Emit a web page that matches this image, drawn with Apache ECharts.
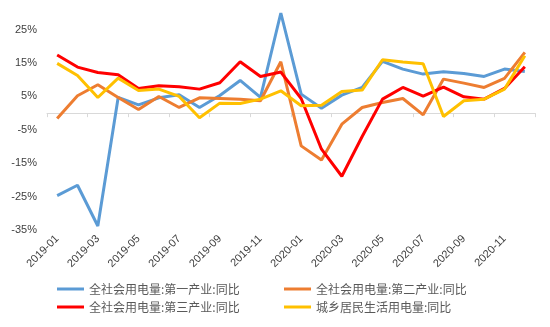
<!DOCTYPE html>
<html>
<head>
<meta charset="utf-8">
<script src="https://cdn.jsdelivr.net/npm/echarts@6/dist/echarts.min.js"></script>
<style>
  html, body { margin: 0; padding: 0; background: #fff; }
  #chart { width: 550px; height: 327px; }
</style>
</head>
<body>
<div id="chart"></div>
<script>
// Monthly year-on-year growth of electricity consumption, %
var months = [
  '2019-01','2019-02','2019-03','2019-04','2019-05','2019-06',
  '2019-07','2019-08','2019-09','2019-10','2019-11','2019-12',
  '2020-01','2020-02','2020-03','2020-04','2020-05','2020-06',
  '2020-07','2020-08','2020-09','2020-10','2020-11','2020-12'
];

var seriesNames = [
  '全社会用电量:第一产业:同比',
  '全社会用电量:第二产业:同比',
  '全社会用电量:第三产业:同比',
  '城乡居民生活用电量:同比'
];

var primaryIndustry = [
  -24.7, -21.6, -33.8, 4.7, 2.5, 4.6, 5.5, 1.7, 5.3, 9.8, 4.7, 30.0,
  5.7, 1.5, 5.4, 7.7, 15.5, 13.2, 11.7, 12.4, 11.9, 11.0, 13.2, 12.5
];
var secondaryIndustry = [
  -1.6, 5.2, 8.5, 4.7, 1.1, 5.0, 1.7, 4.6, 4.4, 4.2, 3.7, 15.4,
  -9.8, -14.0, -3.3, 1.7, 3.2, 4.4, -0.5, 10.2, 9.0, 7.7, 10.4, 18.2
];
var tertiaryIndustry = [
  17.4, 13.8, 12.2, 11.5, 7.4, 8.2, 7.9, 7.2, 9.1, 15.4, 11.0, 12.3,
  4.4, -10.8, -18.9, -7.0, 4.2, 7.7, 5.1, 7.8, 4.9, 4.2, 7.4, 13.9
];
var residential = [
  14.9, 11.3, 4.7, 10.5, 6.8, 7.2, 5.0, -1.4, 3.0, 2.9, 4.2, 6.7,
  2.2, 2.4, 6.5, 6.9, 16.0, 15.3, 14.8, -1.0, 3.7, 4.2, 7.2, 17.2
];

var seriesData = [primaryIndustry, secondaryIndustry, tertiaryIndustry, residential];
var seriesColors = ['#5B9BD5', '#ED7D31', '#FF0000', '#FFC000'];

var yMin = -35, yMax = 30, yStep = 5, yLabelStep = 10;

var chart = echarts.init(document.getElementById('chart'), null, { renderer: 'canvas' });

var legendText = { fontFamily: 'Noto Sans CJK SC', fontSize: 12, color: '#595959' };

chart.setOption({
  animation: false,
  backgroundColor: '#ffffff',
  color: seriesColors,
  grid: { left: 47, right: 15, top: 13, bottom: 97, containLabel: false },
  legend: [
    {
      orient: 'vertical', left: 52, top: 278, itemGap: 6,
      icon: 'rect', itemWidth: 27, itemHeight: 3,
      textStyle: legendText,
      data: [seriesNames[0], seriesNames[2]]
    },
    {
      orient: 'vertical', left: 279, top: 278, itemGap: 6,
      icon: 'rect', itemWidth: 27, itemHeight: 3,
      textStyle: legendText,
      data: [seriesNames[1], seriesNames[3]]
    }
  ],
  xAxis: [
    {
      type: 'category',
      data: months,
      boundaryGap: true,
      position: 'bottom',
      axisLine: { show: true, onZero: true, lineStyle: { color: '#d9d9d9', width: 1 } },
      axisTick: { show: true, interval: 1, length: 4, lineStyle: { color: '#d9d9d9' } },
      axisLabel: { show: false },
      splitLine: { show: false }
    },
    {
      type: 'category',
      data: months,
      boundaryGap: true,
      position: 'bottom',
      axisLine: { show: false, onZero: false },
      axisTick: { show: false },
      axisLabel: {
        show: true, interval: 1, rotate: 45, margin: 7,
        fontFamily: 'Liberation Sans', fontSize: 11, color: '#404040'
      },
      splitLine: { show: false }
    }
  ],
  yAxis: {
    type: 'value',
    min: yMin,
    max: yMax,
    interval: yStep,
    axisLine: { show: false },
    axisTick: { show: false },
    splitLine: { show: false },
    axisLabel: {
      margin: 10,
      fontFamily: 'Liberation Sans', fontSize: 11, color: '#404040',
      formatter: function (v) {
        return ((Math.round(v) - yMin) % yLabelStep === 0) ? Math.round(v) + '%' : '';
      }
    }
  },
  series: seriesNames.map(function (name, i) {
    return {
      name: name,
      type: 'line',
      xAxisIndex: 0,
      data: seriesData[i],
      symbol: 'none',
      lineStyle: { width: 3, color: seriesColors[i] },
      itemStyle: { color: seriesColors[i] }
    };
  })
});
</script>
</body>
</html>
